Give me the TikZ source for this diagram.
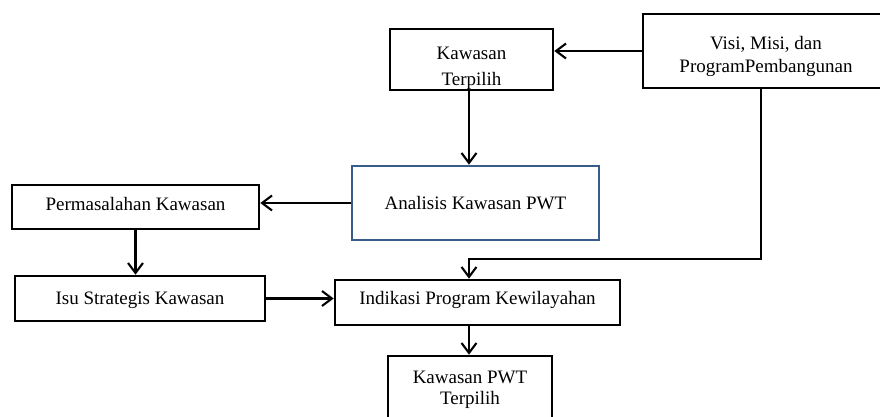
\documentclass[tikz,border=0pt]{standalone}
\usepackage{fontspec}
\setmainfont{Liberation Serif}
\usetikzlibrary{arrows.meta}
\definecolor{boxblue}{RGB}{56,93,138}
\begin{document}
\begin{tikzpicture}[x=1pt,y=-1pt,
  box/.style={draw=black, line width=2.6pt, inner sep=0pt,
              font=\fontsize{19}{23}\selectfont},
  lbl/.style={inner sep=0pt, align=center},
  arr/.style={draw=black, line width=2.1pt,
              -{Straight Barb[length=10pt,width=15pt]}},
]
\useasboundingbox[fill=white] (0,0) rectangle (880,416);

% two-line labels (set before their frames so the frames sit on top)
\begin{scope}
  \clip (390,29) rectangle (553,90);
  \node[lbl, anchor=north, font=\fontsize{19}{26}\selectfont] (kttext) at (471.5,46.5) {Kawasan\\Terpilih};
\end{scope}
\node[lbl, anchor=north, font=\fontsize{19}{23}\selectfont] (visitext) at (766,36) {Visi, Misi, dan\\ProgramPembangunan};
\node[lbl, anchor=north, font=\fontsize{19}{21}\selectfont] (kpwttext) at (470,371) {Kawasan PWT\\Terpilih};

% frames
\node[box, minimum width=163pt, minimum height=61pt] (kt) at (471.5,59.5) {};
\node[box, minimum width=246pt, minimum height=74pt] (visi) at (766,51) {};
\node[box, draw=boxblue, minimum width=247pt, minimum height=74pt,
      text height=13pt, text depth=0pt] (ana) at (475.5,203) {Analisis Kawasan PWT};
\node[box, minimum width=247pt, minimum height=44pt,
      text height=7pt, text depth=0pt] (perm) at (135.5,207) {Permasalahan Kawasan};
\node[box, minimum width=250pt, minimum height=45pt,
      text height=12pt, text depth=0pt] (isu) at (140,298.5) {Isu Strategis Kawasan};
\node[box, minimum width=285pt, minimum height=45pt,
      text height=3pt, text depth=0pt] (ind) at (477.5,302.5) {Indikasi Program Kewilayahan};
\node[box, minimum width=164pt, minimum height=70pt] (kpwt) at (470,391) {};

% routing points
\coordinate (bend) at (761,259);
\coordinate (join) at (469,259);

% connectors
\draw[arr] (visi.west) -- (visi.west -| kt.east);
\draw[arr] (join |- kt.south) -- (join |- ana.north);
\draw[arr] (ana.west) -- (ana.west -| perm.east);
\draw[arr] (perm.south) -- (perm.south |- isu.north);
\draw[arr] (isu.east) -- (isu.east -| ind.west);
\draw[arr] (visi.south -| bend) -- (bend) -- (join) -- (join |- ind.north);
\draw[arr] (join |- ind.south) -- (join |- kpwt.north);
\end{tikzpicture}
\end{document}
